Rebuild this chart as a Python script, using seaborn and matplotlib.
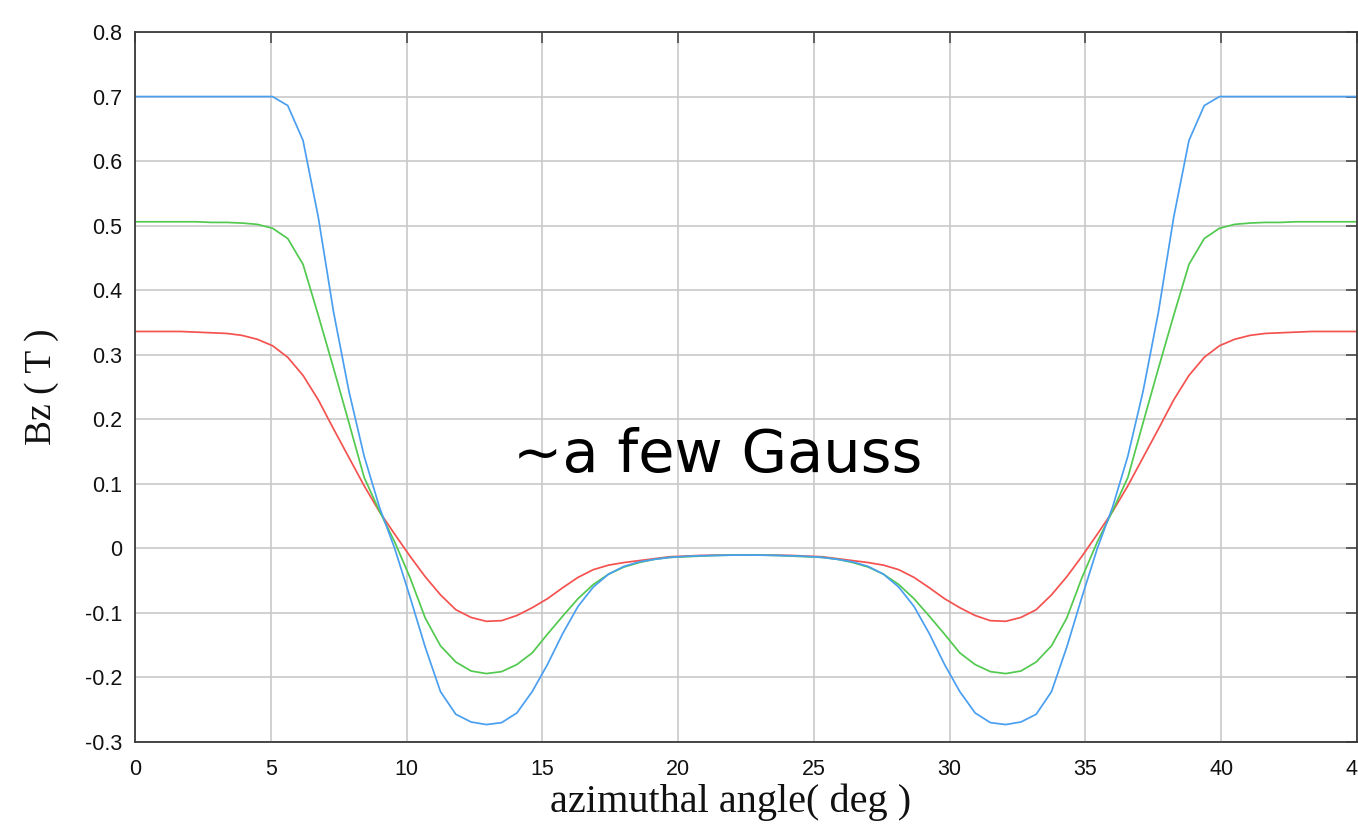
import numpy as np
import pandas as pd
import matplotlib
matplotlib.use("Agg")
import matplotlib.pyplot as plt
from matplotlib.ticker import FixedLocator, FixedFormatter
import seaborn as sns

# Azimuthal sampling of the field map (0..45 deg, 81 samples)
angle_deg = np.linspace(0.0, 45.0, 81)

# Bz (T) for the three field maps
bz_red = [
    0.336, 0.336, 0.336, 0.336, 0.335, 0.334, 0.333, 0.330, 0.324, 0.314,
    0.296, 0.268, 0.230, 0.185, 0.141, 0.097, 0.057, 0.022, -0.012, -0.044,
    -0.072, -0.095, -0.107, -0.113, -0.112, -0.104, -0.092, -0.078, -0.061, -0.045,
    -0.033, -0.026, -0.022, -0.019, -0.016, -0.013, -0.012, -0.011, -0.0105, -0.0104,
    -0.0103,
    -0.0104, -0.0105, -0.011, -0.012, -0.013, -0.016, -0.019, -0.022, -0.026, -0.033,
    -0.045, -0.061, -0.078, -0.092, -0.104, -0.112, -0.113, -0.107, -0.095, -0.072,
    -0.044, -0.012, 0.022, 0.057, 0.097, 0.141, 0.185, 0.230, 0.268, 0.296,
    0.314, 0.324, 0.330, 0.333, 0.334, 0.335, 0.336, 0.336, 0.336, 0.336,
]
bz_green = [
    0.506, 0.506, 0.506, 0.506, 0.506, 0.505, 0.505, 0.504, 0.502, 0.496,
    0.480, 0.440, 0.361, 0.279, 0.195, 0.110, 0.058, 0.010, -0.045, -0.108,
    -0.151, -0.176, -0.190, -0.194, -0.191, -0.180, -0.162, -0.133, -0.105, -0.078,
    -0.056, -0.040, -0.029, -0.022, -0.017, -0.014, -0.013, -0.012, -0.011, -0.0105,
    -0.0104,
    -0.0105, -0.011, -0.012, -0.013, -0.014, -0.017, -0.022, -0.029, -0.040, -0.056,
    -0.078, -0.105, -0.133, -0.162, -0.180, -0.191, -0.194, -0.190, -0.176, -0.151,
    -0.108, -0.045, 0.010, 0.058, 0.110, 0.195, 0.279, 0.361, 0.440, 0.480,
    0.496, 0.502, 0.504, 0.505, 0.505, 0.506, 0.506, 0.506, 0.506, 0.506,
]
bz_blue = [
    0.700, 0.700, 0.700, 0.700, 0.700, 0.700, 0.700, 0.700, 0.700, 0.700,
    0.686, 0.632, 0.513, 0.366, 0.244, 0.143, 0.064, 0.000, -0.075, -0.153,
    -0.222, -0.257, -0.269, -0.273, -0.270, -0.255, -0.222, -0.180, -0.132, -0.090,
    -0.060, -0.040, -0.028, -0.021, -0.017, -0.014, -0.0125, -0.0115, -0.011, -0.0105,
    -0.0104,
    -0.0105, -0.011, -0.0115, -0.0125, -0.014, -0.017, -0.021, -0.028, -0.040, -0.060,
    -0.090, -0.132, -0.180, -0.222, -0.255, -0.270, -0.273, -0.269, -0.257, -0.222,
    -0.153, -0.075, 0.000, 0.064, 0.143, 0.244, 0.366, 0.513, 0.632, 0.686,
    0.700, 0.700, 0.700, 0.700, 0.700, 0.700, 0.700, 0.700, 0.700, 0.700,
]

series_names = ["red", "green", "blue"]
series_colors = ["#f4524f", "#52c94f", "#4a9ff0"]

x_ticks = [0, 5, 10, 15, 20, 25, 30, 35, 40, 45]
x_tick_labels = ["0", "5", "10", "15", "20", "25", "30", "35", "40", "45"]
y_ticks = [-0.3, -0.2, -0.1, 0.0, 0.1, 0.2, 0.3, 0.4, 0.5, 0.6, 0.7, 0.8]
y_tick_labels = ["-0.3", "-0.2", "-0.1", "0", "0.1", "0.2", "0.3",
                 "0.4", "0.5", "0.6", "0.7", "0.8"]

frames = []
for name, vals in zip(series_names, [bz_red, bz_green, bz_blue]):
    frames.append(pd.DataFrame({"angle": angle_deg, "Bz": vals, "map": name}))
df = pd.concat(frames, ignore_index=True)

sns.set_style("white")
plt.rcParams["font.family"] = ["Liberation Sans", "DejaVu Sans"]

fig = plt.figure(figsize=(13.58, 8.27), dpi=100)
ax = fig.add_axes([135 / 1358, 85 / 827, 1222 / 1358, 710 / 827])

sns.lineplot(data=df, x="angle", y="Bz", hue="map", hue_order=series_names,
             palette=series_colors, linewidth=1.25, legend=False, ax=ax,
             estimator=None, sort=False)

ax.set_xlim(0, 45)
ax.set_ylim(-0.3, 0.8)
ax.xaxis.set_major_locator(FixedLocator(x_ticks))
ax.xaxis.set_major_formatter(FixedFormatter(x_tick_labels))
ax.yaxis.set_major_locator(FixedLocator(y_ticks))
ax.yaxis.set_major_formatter(FixedFormatter(y_tick_labels))

ax.grid(True, color="#c9c9c9", linewidth=1.2)
ax.set_axisbelow(True)
for side in ["left", "right", "top", "bottom"]:
    ax.spines[side].set_visible(True)
    ax.spines[side].set_color("#3a3a3a")
    ax.spines[side].set_linewidth(1.3)

ax.tick_params(axis="both", which="major", direction="in", length=8,
               width=1.3, color="#555555", labelsize=15.5, labelcolor="#111111",
               top=True, right=True)
ax.tick_params(axis="y", pad=9)
ax.tick_params(axis="x", pad=12)

ax.set_xlabel("azimuthal angle( deg )", fontsize=29,
              family=["Liberation Serif", "DejaVu Serif"], color="#111111")
ax.set_ylabel("Bz ( T )", fontsize=27,
              family=["Liberation Serif", "DejaVu Serif"], color="#111111")
ax.xaxis.set_label_coords(0.487, -0.058)
ax.yaxis.set_label_coords(-0.062, 0.5)

ax.text(21.44, 0.118, "~a few Gauss", fontsize=42.5, color="black",
        ha="center", va="baseline", family=["DejaVu Sans"])

fig.savefig("out.png", dpi=100)
